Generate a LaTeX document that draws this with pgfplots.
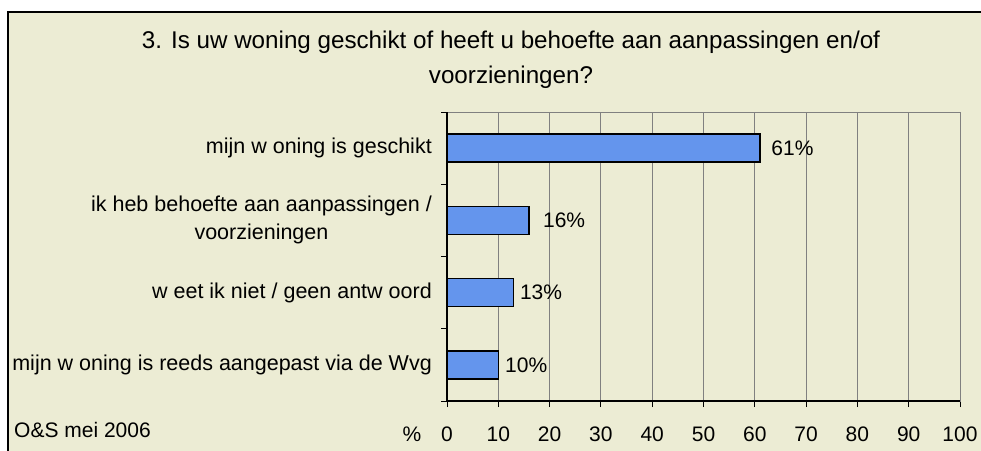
\documentclass[border=0pt]{standalone}
\usepackage{pgfplots}
\pgfplotsset{compat=1.18}
\usepackage{fontspec}
\setmainfont{Liberation Sans}
\definecolor{bgc}{RGB}{236,236,212}
\definecolor{barc}{RGB}{100,149,237}
\definecolor{gridc}{RGB}{128,128,128}
\begin{document}
\begin{tikzpicture}
\begin{scope}
\clip (0pt,0pt) rectangle (981pt,450pt);
\fill[white] (0pt,0pt) rectangle (981pt,450pt);
\draw[fill=bgc, draw=black, line width=2pt] (8pt,-40pt) rectangle (1100pt,438pt);
\end{scope}
\node[anchor=base, inner sep=0, font=\fontsize{24.2}{28}\selectfont] at (511pt,401pt) {3. Is uw woning geschikt of heeft u behoefte aan aanpassingen en/of};
\node[anchor=base, inner sep=0, font=\fontsize{24.2}{28}\selectfont] at (511pt,366pt) {voorzieningen?};
\node[anchor=base west, inner sep=0, font=\fontsize{21}{24}\selectfont] at (14pt,13pt) {O\&S mei 2006};
\node[anchor=base, inner sep=0, font=\fontsize{21}{24}\selectfont] at (412pt,9pt) {\%};
\begin{axis}[
  at={(447pt,49pt)}, anchor=south west,
  scale only axis, width=513pt, height=289pt,
  xmin=0, xmax=100, ymin=-0.5, ymax=3.5, y dir=reverse,
  clip=false,
  xtick={0,10,...,100},
  ytick={-0.5,0.5,1.5,2.5,3.5}, yticklabels={},
  extra y ticks={0,1,2,3},
  extra y tick labels={{mijn w oning is geschikt},{ik heb behoefte aan aanpassingen /\\voorzieningen},{w eet ik niet / geen antw oord},{mijn w oning is reeds aangepast via de Wvg}},
  extra y tick style={major tick length=0pt},
  xmajorgrids=true, ymajorgrids=false,
  grid style={draw=gridc, line width=1pt},
  axis line style={draw=gridc, line width=1pt},
  tick align=outside, xtick pos=left, ytick pos=left,
  major tick length=6pt,
  tick style={black, line width=1pt},
  /pgf/number format/assume math mode=true,
  xticklabel style={font=\fontsize{21}{24}\selectfont, anchor=base, inner sep=0pt, yshift=-34pt},
  yticklabel style={font=\fontsize{21.5}{28}\selectfont, align=center, anchor=east, inner sep=0pt, xshift=-15pt},
]
\addplot[xbar, bar width=28pt, fill=barc, draw=black, line width=1.5pt] coordinates {(61,0) (16,1) (13,2) (10,3)};
\draw[black, line width=1.5pt] (rel axis cs:0,1) -- (rel axis cs:0,0) -- (rel axis cs:1,0);
\begin{scope}[every node/.style={anchor=west, inner sep=0pt, font=\fontsize{21}{24}\selectfont}]
\node at (axis cs:63.2,0) {61\%};
\node at (axis cs:18.7,1) {16\%};
\node at (axis cs:14.2,2) {13\%};
\node at (axis cs:11.3,3) {10\%};
\end{scope}
\end{axis}
\pgfresetboundingbox
\useasboundingbox (0pt,0pt) rectangle (981pt,450pt);
\end{tikzpicture}
\end{document}
